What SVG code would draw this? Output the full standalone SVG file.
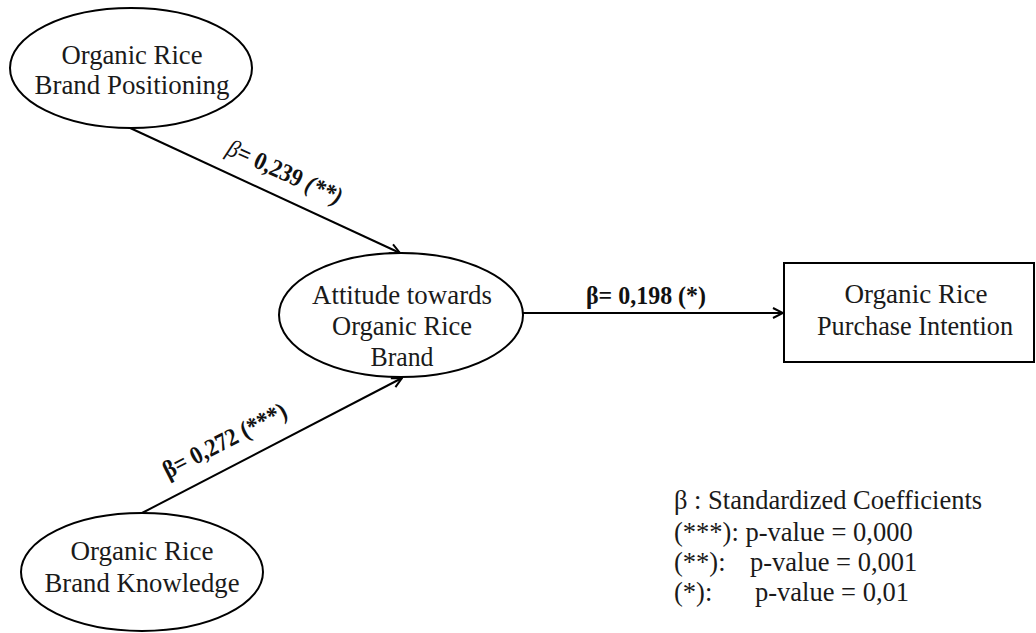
<svg xmlns="http://www.w3.org/2000/svg" width="1036" height="633" viewBox="0 0 1036 633">
<style>
  .node { fill: #ffffff; stroke: #000000; stroke-width: 2; }
  .lbl { font-family: "Liberation Serif", "Times New Roman", serif; font-size: 28px; fill: #1a1a1a; text-anchor: middle; }
  .edge { stroke: #000000; stroke-width: 2; fill: none; marker-end: url(#arr); }
  .coef { font-family: "Liberation Serif", "Times New Roman", serif; font-size: 25px; fill: #111111; font-weight: bold; }
  .leg { font-family: "Liberation Serif", "Times New Roman", serif; font-size: 26.5px; fill: #1a1a1a; }
</style>
<defs>
  <marker id="arr" viewBox="0 0 12 12" refX="11" refY="6" markerWidth="12" markerHeight="12" markerUnits="userSpaceOnUse" orient="auto">
    <path d="M1,1 L11,6 L1,11" fill="none" stroke="#000000" stroke-width="2"/>
  </marker>
</defs>
<rect width="1036" height="633" fill="#ffffff"/>

<g id="connectors">
  <line class="edge" x1="128" y1="127" x2="400" y2="253"/>
  <line class="edge" x1="142" y1="513" x2="402" y2="378"/>
  <line class="edge" x1="523" y1="313" x2="783" y2="313"/>
  <text class="coef" transform="translate(225,154) rotate(24.5)" textLength="124" lengthAdjust="spacingAndGlyphs"><tspan font-style="italic" font-weight="normal">β</tspan>= 0,239 <tspan font-style="italic">(**)</tspan></text>
  <text class="coef" transform="translate(168,479) rotate(-27.3)" textLength="136" lengthAdjust="spacingAndGlyphs">β= 0,272 (***)</text>
  <text class="coef" x="586" y="304" textLength="120" lengthAdjust="spacingAndGlyphs">β= 0,198 (*)</text>
</g>

<g id="node-positioning">
  <ellipse class="node" cx="131" cy="68" rx="121" ry="60"/>
  <text class="lbl" x="132" y="64" textLength="141" lengthAdjust="spacingAndGlyphs">Organic Rice</text>
  <text class="lbl" x="132" y="94" textLength="195" lengthAdjust="spacingAndGlyphs">Brand Positioning</text>
</g>

<g id="node-attitude">
  <ellipse class="node" cx="401" cy="315" rx="122" ry="62"/>
  <text class="lbl" x="402" y="304" textLength="180" lengthAdjust="spacingAndGlyphs">Attitude towards</text>
  <text class="lbl" x="402" y="335" textLength="140" lengthAdjust="spacingAndGlyphs">Organic Rice</text>
  <text class="lbl" x="402" y="366" textLength="63" lengthAdjust="spacingAndGlyphs">Brand</text>
</g>

<g id="node-knowledge">
  <ellipse class="node" cx="142" cy="572" rx="121" ry="59"/>
  <text class="lbl" x="142" y="560" textLength="143" lengthAdjust="spacingAndGlyphs">Organic Rice</text>
  <text class="lbl" x="142" y="592" textLength="195" lengthAdjust="spacingAndGlyphs">Brand Knowledge</text>
</g>

<g id="node-intention">
  <rect class="node" x="784" y="263" width="250" height="99"/>
  <text class="lbl" x="916" y="303" textLength="143" lengthAdjust="spacingAndGlyphs">Organic Rice</text>
  <text class="lbl" x="915" y="335" textLength="196" lengthAdjust="spacingAndGlyphs">Purchase Intention</text>
</g>

<g id="legend">
  <text class="leg" x="674" y="509">β : Standardized Coefficients</text>
  <text class="leg" x="674" y="541">(***): p-value = 0,000</text>
  <text class="leg" x="674" y="571">(**):</text>
  <text class="leg" x="750" y="571">p-value = 0,001</text>
  <text class="leg" x="674" y="601">(*):</text>
  <text class="leg" x="755" y="601">p-value = 0,01</text>
</g>
</svg>
